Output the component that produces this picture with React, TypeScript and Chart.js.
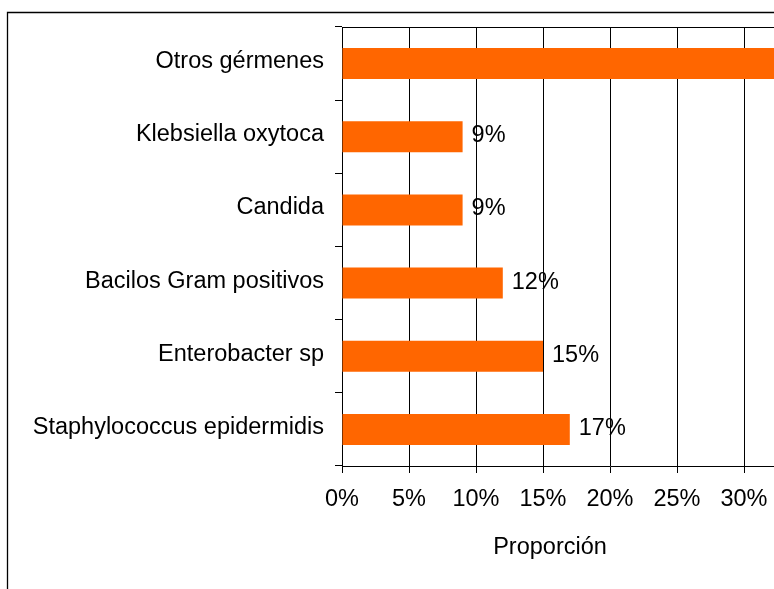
import React, { useEffect, useRef } from "react";
import { Chart, registerables } from "chart.js";

Chart.register(...registerables);

const CATEGORIES = [
  "Otros gérmenes",
  "Klebsiella oxytoca",
  "Candida",
  "Bacilos Gram positivos",
  "Enterobacter sp",
  "Staphylococcus epidermidis",
];
const VALUES = [38, 9, 9, 12, 15, 17];
const X_MIN = 0;
const X_MAX = 40;
const X_STEP = 5;
const X_TITLE = "Proporción";

const FONT = "'Liberation Sans', Arial, sans-serif";
const FONT_SIZE = 23.5;
const BAR_COLOR = "#FF6600";

export default function App() {
  const ref = useRef<HTMLCanvasElement>(null);

  useEffect(() => {
    if (!ref.current) return;
    const extras = {
      id: "extras",
      beforeDraw(chart: any) {
        const ctx = chart.ctx;
        ctx.save();
        ctx.strokeStyle = "#000";
        ctx.lineWidth = 1.3;
        ctx.beginPath();
        ctx.moveTo(7.5, chart.height + 2);
        ctx.lineTo(7.5, 12.5);
        ctx.lineTo(chart.width + 2, 12.5);
        ctx.stroke();
        ctx.restore();
      },
      afterDraw(chart: any) {
        const ctx = chart.ctx;
        const area = chart.chartArea;
        ctx.save();
        ctx.strokeStyle = "#000";
        ctx.lineWidth = 1;
        ctx.beginPath();
        ctx.moveTo(area.left, Math.round(area.top) + 0.5);
        ctx.lineTo(area.right, Math.round(area.top) + 0.5);
        ctx.stroke();
        ctx.fillStyle = "#000";
        ctx.font = `${FONT_SIZE}px ${FONT}`;
        ctx.textBaseline = "middle";
        ctx.textAlign = "left";
        const meta = chart.getDatasetMeta(0);
        meta.data.forEach((bar: any, i: number) => {
          ctx.fillText(`${VALUES[i]}%`, bar.x + 9, bar.y - 1);
        });
        ctx.textAlign = "center";
        ctx.fillText(X_TITLE, 550, 548);
        ctx.restore();
      },
    };

    const chart = new Chart(ref.current, {
      type: "bar",
      data: {
        labels: CATEGORIES,
        datasets: [
          {
            data: VALUES,
            backgroundColor: BAR_COLOR,
            borderWidth: 0,
            barPercentage: 0.424,
            categoryPercentage: 1,
          },
        ],
      },
      options: {
        indexAxis: "y",
        animation: false,
        responsive: false,
        maintainAspectRatio: false,
        layout: { padding: { left: 0, top: 27, right: 22, bottom: 0 } },
        plugins: {
          legend: { display: false },
          tooltip: { enabled: false },
        },
        scales: {
          x: {
            type: "linear",
            min: X_MIN,
            max: X_MAX,
            ticks: {
              stepSize: X_STEP,
              color: "#000",
              font: { family: FONT, size: FONT_SIZE },
              padding: 12,
              maxRotation: 0,
              callback: (v: any) => `${v}%`,
            },
            grid: {
              color: "#000",
              lineWidth: 1,
              tickLength: 7,
              drawTicks: true,
            },
            border: { display: true, color: "#000", width: 1 },
            afterFit: (scale: any) => {
              scale.height = 123;
              scale.paddingLeft = 0;
              scale.paddingRight = 0;
            },
          },
          y: {
            type: "category",
            offset: true,
            ticks: {
              color: "#000",
              font: { family: FONT, size: FONT_SIZE },
              padding: 11,
              labelOffset: -2,
            },
            grid: {
              color: "#000",
              lineWidth: 1,
              offset: true,
              drawOnChartArea: false,
              drawTicks: true,
              tickLength: 7,
            },
            border: { display: true, color: "#000", width: 1 },
            afterFit: (scale: any) => {
              scale.width = 342;
              scale.paddingTop = 0;
              scale.paddingBottom = 0;
            },
          },
        },
      } as any,
      plugins: [extras],
    });
    return () => chart.destroy();
  }, []);

  return (
    <div
      style={{
        position: "fixed",
        left: 0,
        top: 0,
        width: 774,
        height: 589,
        overflow: "hidden",
        background: "#fff",
      }}
    >
      <canvas
        ref={ref}
        width={900}
        height={589}
        style={{ position: "absolute", left: 0, top: 0, width: 900, height: 589 }}
      />
    </div>
  );
}
